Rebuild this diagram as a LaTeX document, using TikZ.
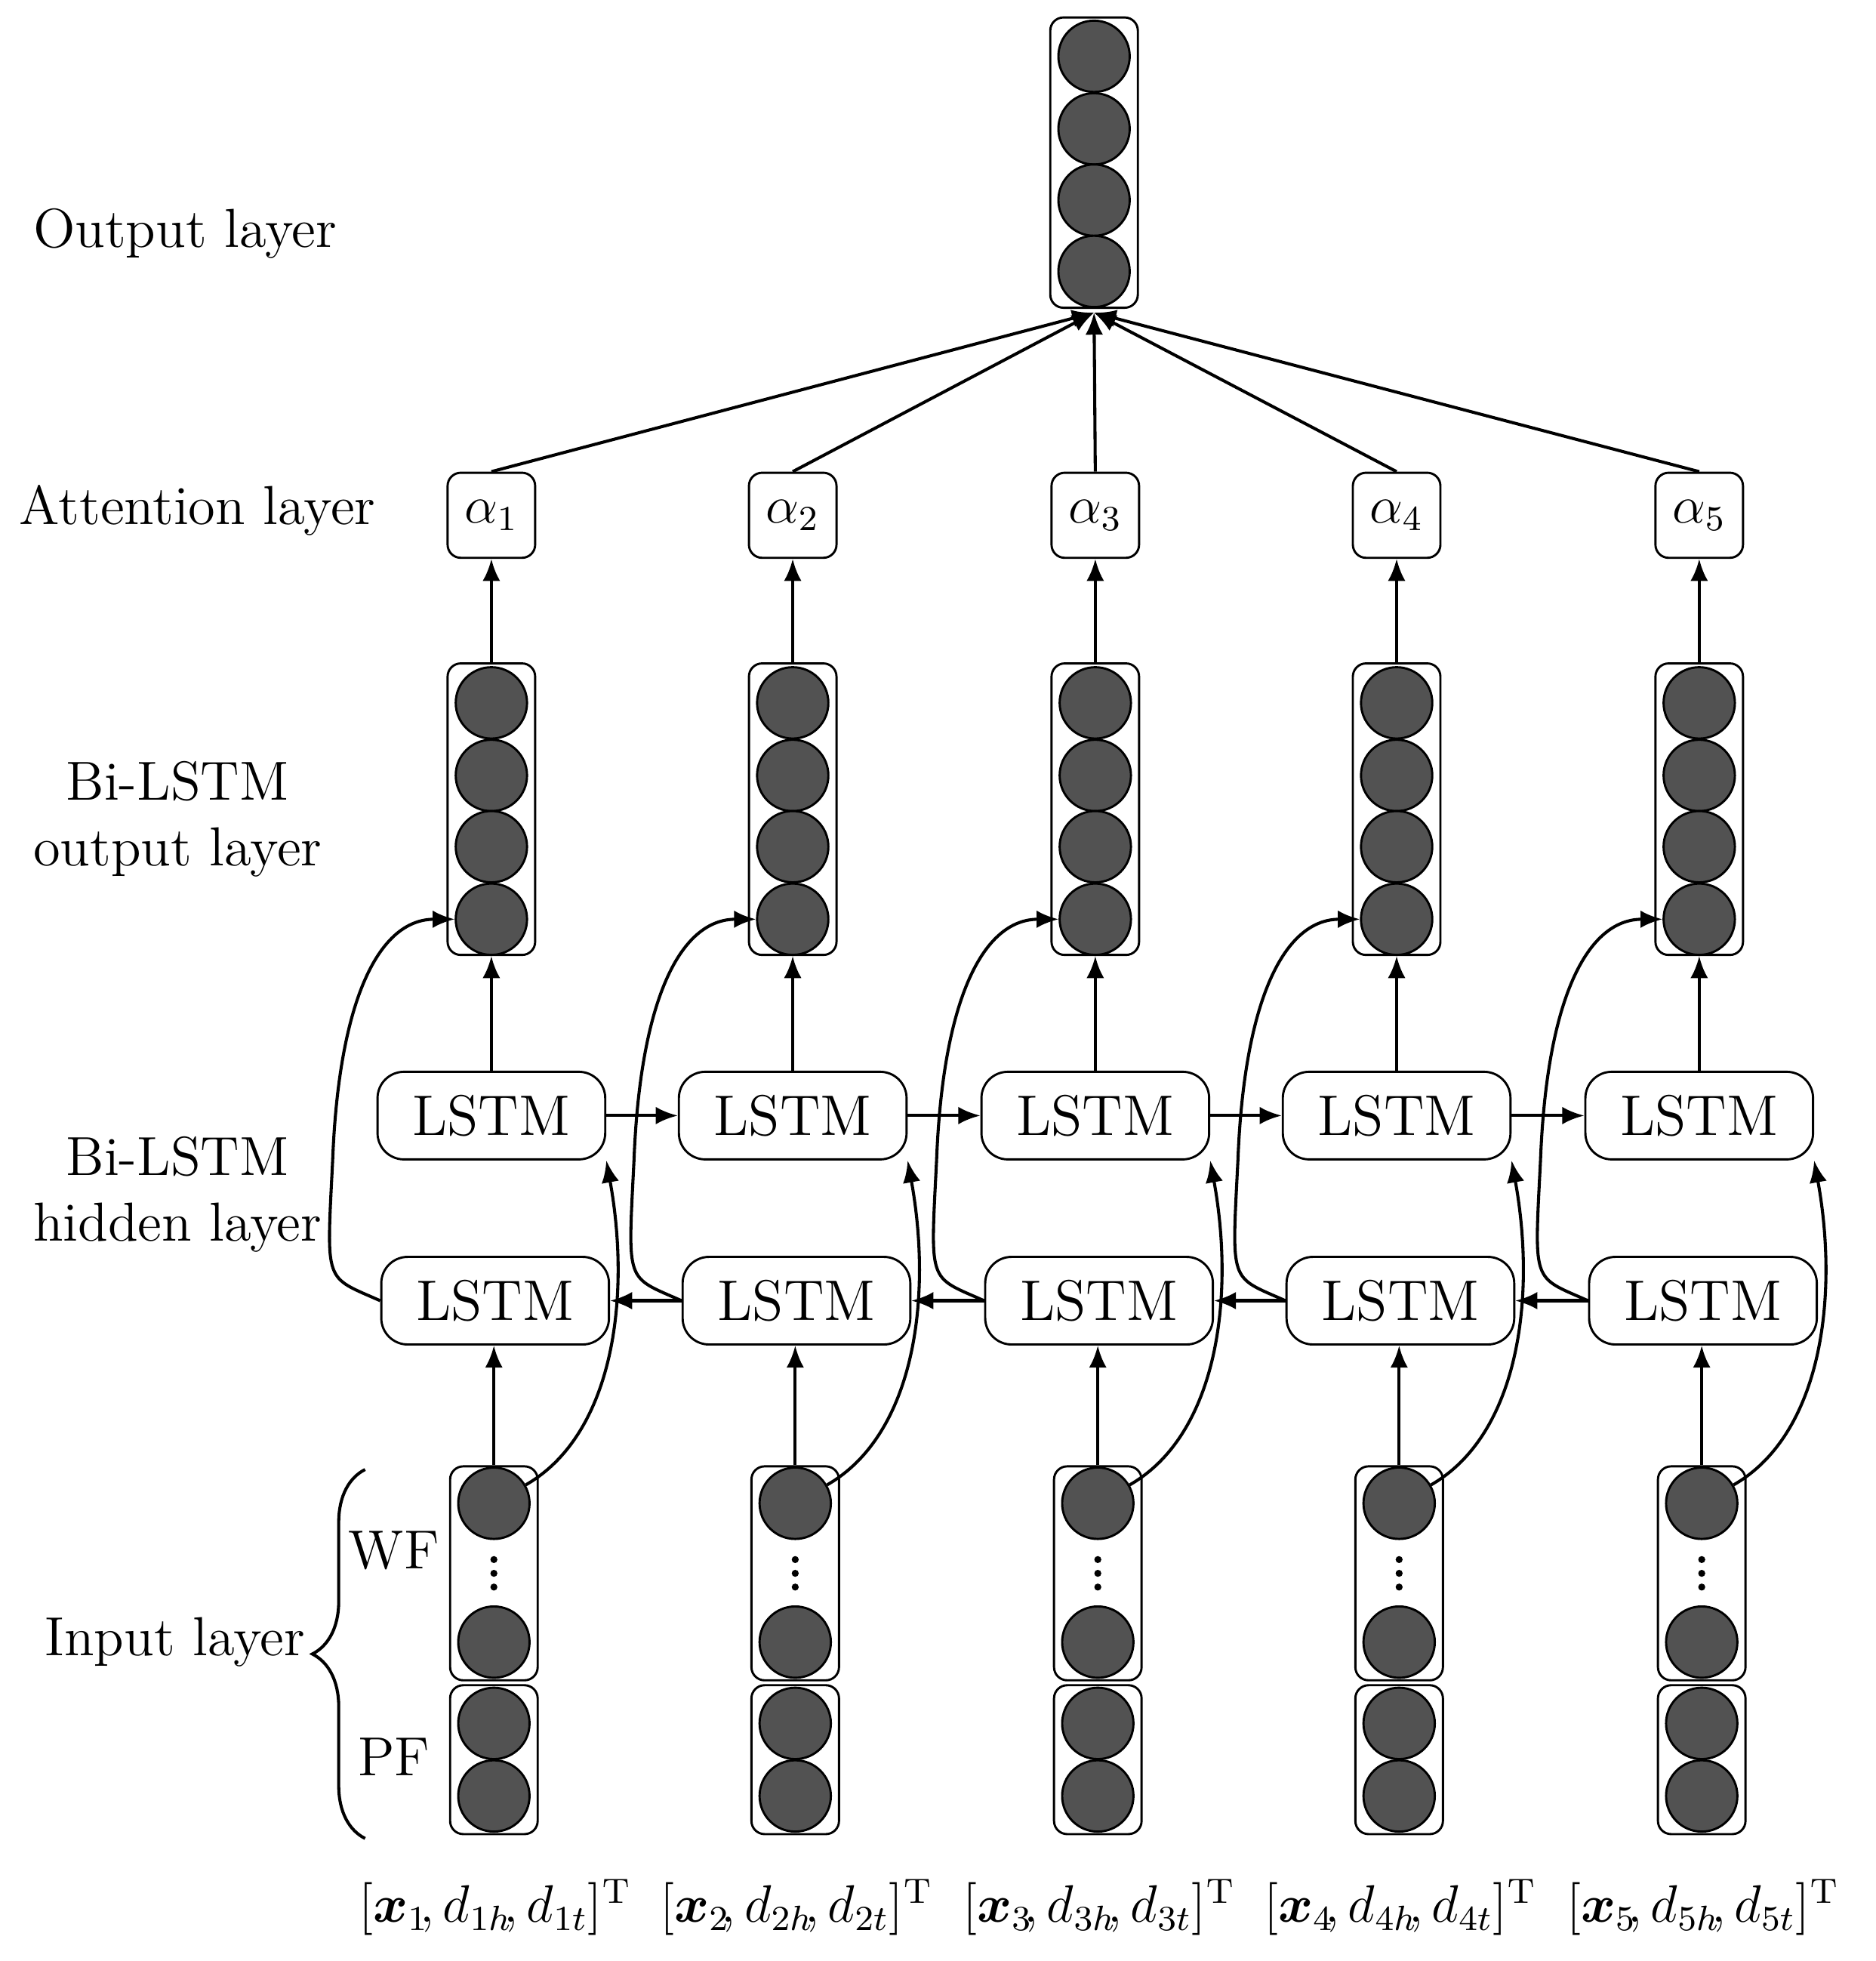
\documentclass[tikz,border=0pt]{standalone}
\usepackage{amsmath,bm}
\usetikzlibrary{arrows.meta,decorations.pathreplacing}
\begin{document}
\begin{tikzpicture}[x=0.01cm,y=-0.01cm,
  circ/.style={circle,draw=black,fill=black!68,minimum size=0.57cm,inner sep=0pt,line width=0.5pt},
  col/.style={draw,rounded corners=3pt,minimum width=0.7cm,inner sep=0pt,line width=0.5pt},
  lstm/.style={draw,rounded corners=6pt,minimum width=1.82cm,minimum height=0.7cm,font=\fontsize{13}{15}\selectfont,line width=0.5pt},
  att/.style={draw,rounded corners=3pt,minimum width=0.7cm,minimum height=0.68cm,line width=0.5pt,font=\large},
  lab/.style={font=\fontsize{12.5}{15}\selectfont,align=center},
  dot/.style={circle,fill=black,inner sep=0pt,minimum size=1.6pt},
  arr/.style={-{Latex[length=5pt,width=4pt]},line width=0.7pt}]
\useasboundingbox (0,0) rectangle (1500,1568);
% output
\node[col,minimum height=2.32cm] (obox) at (875,130) {};
\foreach \y [count=\k] in {45,103,160,217} \node[circ] (oc\k) at (875,\y) {};
\coordinate (top) at (875,250);
% labels
\node[lab] (l1) at (148,187) {Output layer};
\node[lab] (l2) at (158,408) {Attention layer};
\node[lab] (l3) at (142,655) {Bi-LSTM\\output layer};
\node[lab] (l4) at (142,955) {Bi-LSTM\\hidden layer};
\node[lab] (l5) at (140,1313) {Input layer};
\node[lab] (wf) at (315,1240) {WF};
\node[lab] (pf) at (315,1405) {PF};
\draw[line width=0.7pt,decorate,decoration={brace,amplitude=12pt}] (292,1470) -- (292,1175);
\foreach \i/\x in {1/393,2/634,3/876,4/1117,5/1359}{
  \node[att] (a\i) at (\x,412) {$\alpha_{\i}$};
  \node[col,minimum height=2.33cm] (b\i) at (\x,647) {};
  \foreach \y [count=\k] in {562,620,677,735} \node[circ] (b\i c\k) at (\x,\y) {};
  \node[lstm] (u\i) at (\x,892) {LSTM};
  \node[lstm] (d\i) at (\x+3,1040) {LSTM};
  \node[col,minimum height=1.71cm] (w\i) at (\x+2,1258) {};
  \node[circ] (w\i a) at (\x+2,1202) {};
  \node[circ] (w\i b) at (\x+2,1313) {};
  \node[dot] (d\i a) at (\x+2,1247) {};
  \node[dot] (d\i b) at (\x+2,1258) {};
  \node[dot] (d\i c) at (\x+2,1269) {};
  \node[col,minimum height=1.19cm] (p\i) at (\x+2,1407) {};
  \node[circ] (p\i a) at (\x+2,1378) {};
  \node[circ] (p\i b) at (\x+2,1436) {};
  \node[font=\fontsize{11.5}{14}\selectfont,inner sep=0pt] (x\i) at (\x+3,1525) {$[\bm{x}_{\i}\!,d_{\i h}\!,d_{\i t}]^{\mathrm{T}}$};
  \draw[arr] (a\i.north) -- (top);
  \draw[arr] (b\i.north) -- (a\i.south);
  \draw[arr] (u\i.north) -- (b\i.south);
  \draw[arr] (w\i.north) -- (w\i.north |- d\i.south);
  \draw[arr] (w\i a.30) .. controls +(70,-40) and +(20,110) .. (u\i.south east);
  \draw[arr] (d\i.west) .. controls +(-45,-20) and +(-5,100) .. ([xshift=-0.35cm]u\i.west |- u\i.south) .. controls +(5,-130) and +(-60,0) .. (b\i c4.west);
}
\foreach \i/\j in {1/2,2/3,3/4,4/5}{
  \draw[arr] (u\i.east) -- (u\j.west);
  \draw[arr] (d\j.west) -- (d\i.east);
}
\end{tikzpicture}
\end{document}
